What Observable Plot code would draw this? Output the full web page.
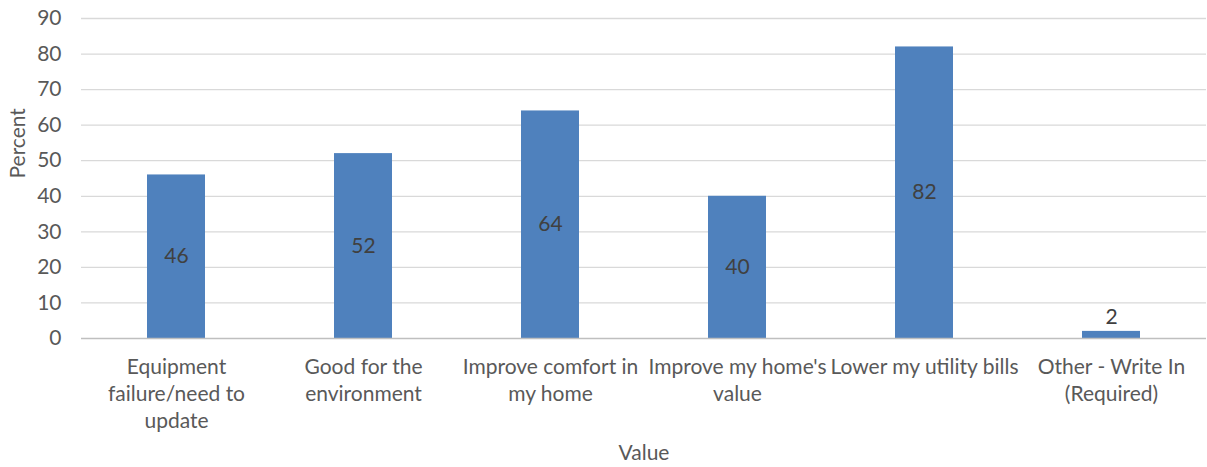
<!DOCTYPE html>
<html>
<head>
<meta charset="utf-8">
<script src="https://cdn.jsdelivr.net/npm/d3@7"></script>
<script src="https://cdn.jsdelivr.net/npm/@observablehq/plot@0.6"></script>
<style>
  html, body { margin: 0; padding: 0; background: #fff; }
  #chart svg { display: block; }
</style>
</head>
<body>
<div id="chart"></div>
<script>
const categories = [
  "Equipment failure/need to update",
  "Good for the environment",
  "Improve comfort in my home",
  "Improve my home's value",
  "Lower my utility bills",
  "Other - Write In (Required)"
];
const tickLabels = [
  "Equipment\nfailure/need to\nupdate",
  "Good for the\nenvironment",
  "Improve comfort in\nmy home",
  "Improve my home's\nvalue",
  "Lower my utility bills",
  "Other - Write In\n(Required)"
];
const values = [46, 52, 64, 40, 82, 2];
const yTicks = [0, 10, 20, 30, 40, 50, 60, 70, 80, 90];
const yTitle = "Percent";
const xTitle = "Value";

const data = categories.map((c, i) => ({category: c, value: values[i]}));
const labelMap = new Map(categories.map((c, i) => [c, tickLabels[i]]));
const inside = data.filter(d => d.value >= 5);
const outside = data.filter(d => d.value < 5);

const font = "Lato, 'Open Sans', sans-serif";
const grey = "#595959";
const fs = 21;

const chart = Plot.plot({
  width: 1207,
  height: 467,
  marginLeft: 81,
  marginRight: 1,
  marginTop: 18,
  marginBottom: 129,
  style: {fontFamily: font, fontSize: fs + "px", color: grey, background: "#fff"},
  x: {domain: categories, paddingInner: 0.69, paddingOuter: 0.345},
  y: {domain: [0, 90]},
  marks: [
    Plot.ruleY(yTicks.filter(t => t > 0), {stroke: "#d9d9d9", strokeWidth: 1.3}),
    Plot.barY(data, {x: "category", y: "value", fill: "#4f81bd"}),
    Plot.ruleY([0], {stroke: "#bfbfbf", strokeWidth: 1.5}),
    Plot.axisY({ticks: yTicks, tickSize: 0, tickPadding: 20, fontSize: fs, label: null}),
    Plot.axisX({
      tickSize: 0, tickPadding: 16, fontSize: fs, lineHeight: 1.3,
      tickFormat: d => labelMap.get(d), label: null
    }),
    Plot.text([yTitle], {frameAnchor: "left", dx: -63, rotate: -90, text: d => d, fill: grey, fontSize: fs}),
    Plot.text([xTitle], {frameAnchor: "bottom", dy: 121, text: d => d, fill: grey, fontSize: fs}),
    Plot.text(inside, {x: "category", y: d => d.value / 2, text: d => String(d.value), fill: "#404040", fontSize: fs}),
    Plot.text(outside, {x: "category", y: "value", text: d => String(d.value), fill: "#404040", fontSize: fs, dy: -14})
  ]
});
document.getElementById("chart").appendChild(chart);
</script>
</body>
</html>
